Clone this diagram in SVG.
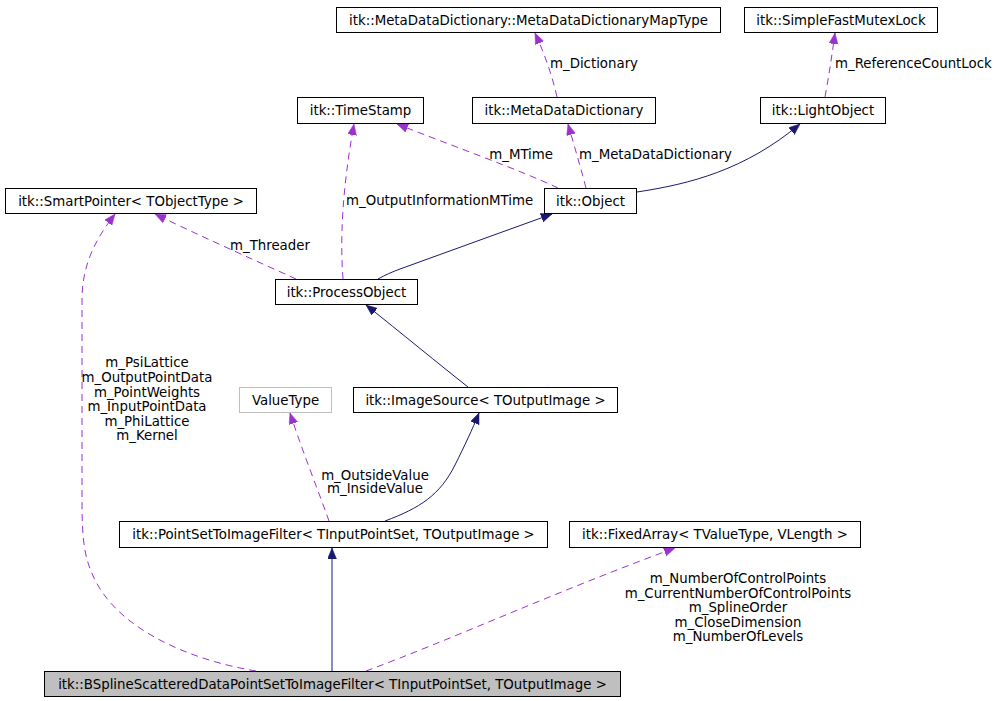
<svg xmlns="http://www.w3.org/2000/svg" width="1004" height="701" viewBox="0 0 1004 701">
<style>
  .box { fill: #ffffff; stroke: #000000; stroke-width: 1; }
  .gray { fill: #ffffff; stroke: #bfbfbf; stroke-width: 1; }
  .cur { fill: #bfbfbf; stroke: #000000; stroke-width: 1; }
  text { font-family: "DejaVu Sans", "Liberation Sans", sans-serif; font-size: 13.33px; fill: #000000; }
  .c { text-anchor: middle; }
  .use { fill: none; stroke: #9a32cd; stroke-width: 1; stroke-dasharray: 7,5; }
  .inh { fill: none; stroke: #191970; stroke-width: 1; }
</style>
<defs>
  <marker id="ap" markerUnits="userSpaceOnUse" markerWidth="12" markerHeight="10" refX="11" refY="4.5" orient="auto">
    <path d="M0,0 L11,4.5 L0,9 Z" fill="#9a32cd" stroke="#9a32cd" stroke-width="0.5"/>
  </marker>
  <marker id="an" markerUnits="userSpaceOnUse" markerWidth="12" markerHeight="10" refX="11" refY="4.5" orient="auto">
    <path d="M0,0 L11,4.5 L0,9 Z" fill="#191970" stroke="#191970" stroke-width="0.5"/>
  </marker>
</defs>
<rect width="1004" height="701" fill="#ffffff"/>

<g id="connectors">
  <path class="use" d="M557,97 C552,75 545,55 535,33" marker-end="url(#ap)"/>
  <path class="use" d="M825,97 C829,75 832,55 835,33" marker-end="url(#ap)"/>
  <path class="use" d="M558,188 C520,170 450,145 397,124" marker-end="url(#ap)"/>
  <path class="use" d="M586,188 C580,165 574,145 568,124" marker-end="url(#ap)"/>
  <path class="inh" d="M637,192 C690,184 745,170 800,124" marker-end="url(#an)"/>
  <path class="use" d="M296,279 C250,258 200,236 155,214" marker-end="url(#ap)"/>
  <path class="use" d="M343,279 C340,240 342,190 354,124" marker-end="url(#ap)"/>
  <path class="inh" d="M378,279 C385,275 392,272 400,269 L552,214" marker-end="url(#an)"/>
  <path class="inh" d="M468,387 C440,365 400,332 366,305" marker-end="url(#an)"/>
  <path class="use" d="M329,521 C318,490 302,450 290,413" marker-end="url(#ap)"/>
  <path class="inh" d="M385,521 C420,508 440,495 455,465 C465,445 472,430 479,413" marker-end="url(#an)"/>
  <path class="inh" d="M332,671 L332,548" marker-end="url(#an)"/>
  <path class="use" d="M256,671 C190,660 120,630 95,580 C84,558 82,540 82,500 L82,300 C82,265 95,240 115,214" marker-end="url(#ap)"/>
  <path class="use" d="M366,671 C450,640 560,590 675,548" marker-end="url(#ap)"/>
  <text x="550" y="68">m_Dictionary</text>
  <text x="835" y="68">m_ReferenceCountLock</text>
  <text x="553" y="159" text-anchor="end">m_MTime</text>
  <text x="579" y="159">m_MetaDataDictionary</text>
  <text x="346" y="204.5">m_OutputInformationMTime</text>
  <text x="230" y="249.5">m_Threader</text>
  <text class="c" x="147" y="367.4">m_PsiLattice</text>
  <text class="c" x="147" y="381.9">m_OutputPointData</text>
  <text class="c" x="147" y="396.5">m_PointWeights</text>
  <text class="c" x="147" y="411">m_InputPointData</text>
  <text class="c" x="147" y="425.5">m_PhiLattice</text>
  <text class="c" x="147" y="440">m_Kernel</text>
  <text class="c" x="375" y="479.5">m_OutsideValue</text>
  <text class="c" x="375" y="493">m_InsideValue</text>
  <text class="c" x="738" y="583">m_NumberOfControlPoints</text>
  <text class="c" x="738" y="597.5">m_CurrentNumberOfControlPoints</text>
  <text class="c" x="738" y="612">m_SplineOrder</text>
  <text class="c" x="738" y="626.8">m_CloseDimension</text>
  <text class="c" x="738" y="641.3">m_NumberOfLevels</text>
</g>

<g id="node-mapType">
  <rect class="box" x="336.5" y="7.5" width="384" height="25"/>
  <text class="c" x="528.5" y="25">itk::MetaDataDictionary::MetaDataDictionaryMapType</text>
</g>
<g id="node-mutex">
  <rect class="box" x="744.5" y="7.5" width="193" height="25"/>
  <text class="c" x="841" y="25">itk::SimpleFastMutexLock</text>
</g>
<g id="node-timestamp">
  <rect class="box" x="297.5" y="97.5" width="126" height="26"/>
  <text class="c" x="360.5" y="115">itk::TimeStamp</text>
</g>
<g id="node-metadatadictionary">
  <rect class="box" x="472.5" y="97.5" width="183" height="26"/>
  <text class="c" x="564" y="115">itk::MetaDataDictionary</text>
</g>
<g id="node-lightobject">
  <rect class="box" x="760.5" y="97.5" width="125" height="26"/>
  <text class="c" x="823" y="115">itk::LightObject</text>
</g>
<g id="node-smartpointer">
  <rect class="box" x="5.5" y="188.5" width="251" height="25"/>
  <text class="c" x="131" y="205.5">itk::SmartPointer&lt; TObjectType &gt;</text>
</g>
<g id="node-object">
  <rect class="box" x="544.5" y="188.5" width="92" height="25"/>
  <text class="c" x="590.5" y="205.5">itk::Object</text>
</g>
<g id="node-processobject">
  <rect class="box" x="275.5" y="279.5" width="142" height="25"/>
  <text class="c" x="346.5" y="296.5">itk::ProcessObject</text>
</g>
<g id="node-valuetype">
  <rect class="gray" x="239.5" y="387.5" width="92" height="25"/>
  <text class="c" x="285.5" y="404.5">ValueType</text>
</g>
<g id="node-imagesource">
  <rect class="box" x="353.5" y="387.5" width="264" height="25"/>
  <text class="c" x="485.5" y="404.5">itk::ImageSource&lt; TOutputImage &gt;</text>
</g>
<g id="node-pointsettoimagefilter">
  <rect class="box" x="119.5" y="521.5" width="428" height="26"/>
  <text class="c" x="333.5" y="539">itk::PointSetToImageFilter&lt; TInputPointSet, TOutputImage &gt;</text>
</g>
<g id="node-fixedarray">
  <rect class="box" x="569.5" y="521.5" width="291" height="26"/>
  <text class="c" x="715" y="539">itk::FixedArray&lt; TValueType, VLength &gt;</text>
</g>
<g id="node-bspline">
  <rect class="cur" x="44.5" y="671.5" width="576" height="25"/>
  <text class="c" x="332.5" y="688.5">itk::BSplineScatteredDataPointSetToImageFilter&lt; TInputPointSet, TOutputImage &gt;</text>
</g>
</svg>
